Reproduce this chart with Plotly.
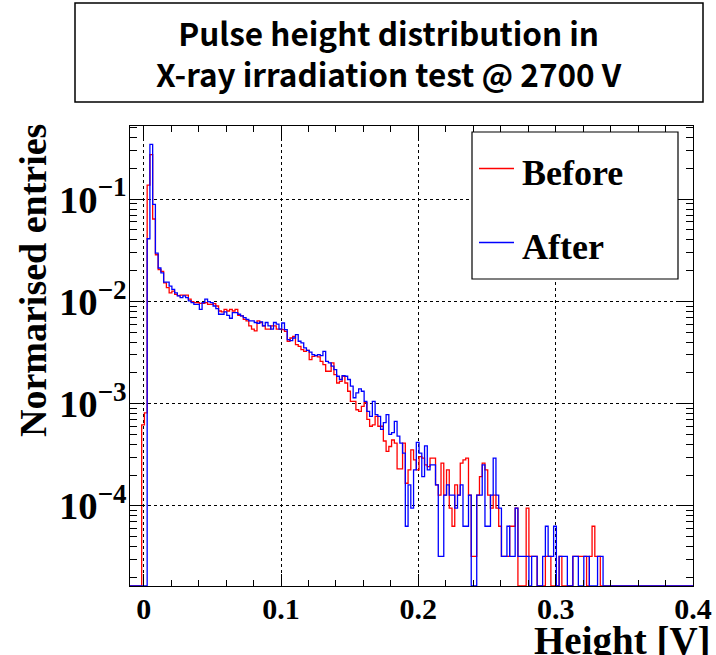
import numpy as np
import plotly.graph_objects as go

# ---------------- data ----------------
bin_width = 0.002
first_edge = -0.0015          # low edge of first listed bin [V]
x_min, x_max = -0.01, 0.40
y_min, y_max = 1.64e-5, 0.52

before = [
    6.2e-4, 8.1e-4, 0.137, 0.273, 0.064, 0.0286, 0.0205, 0.0197, 0.0152, 0.0136,
    0.0121, 0.0126, 0.0117, 0.0114, 0.0115, 0.0115, 0.0115, 0.0105, 0.00993, 0.0097,
    0.0097, 0.00957, 0.00957, 0.0097, 0.00935, 0.00935, 0.00949, 0.00901, 0.00805, 0.00788,
    0.00836, 0.00805, 0.00836, 0.00805, 0.00836, 0.00731, 0.00721, 0.00668, 0.00644, 0.00576,
    0.00535, 0.00515, 0.00644, 0.00621, 0.00576, 0.00535, 0.00535, 0.00576, 0.00576, 0.00535,
    0.00535, 0.00528, 0.00509, 0.00407, 0.00438, 0.00455, 0.00378, 0.00363, 0.00337, 0.00324,
    0.00332, 0.00269, 0.0029, 0.00294, 0.00286, 0.00259, 0.0024, 0.00207, 0.00207, 0.0025,
    0.00192, 0.00159, 0.00165, 0.00185, 0.00159, 0.00132, 0.00105, 0.00105, 0.00087, 0.00084,
    0.00094, 0.00102, 0.0007, 0.0006, 0.00062, 0.00075, 0.0006, 0.0006, 0.00043, 0.00034,
    0.00038, 0.00044, 0.00041, 0.00023, 0.00023, 0.00041, 1.66e-4, 2.24e-4, 3.53e-4, 2.81e-4,
    2.24e-4, 3.03e-4, 2.92e-4, 2.51e-4, 2.42e-4, 2.92e-4, 2.92e-4, 1.6e-4, 1.27e-4, 2.61e-4,
    1.27e-4, 2.24e-4, 9.5e-5, 6.3e-5, 1.6e-4, 1.27e-4, 2.61e-4, 2.81e-4, 2.92e-4, 1.27e-4,
    3.2e-5, 3.2e-5, 1.27e-4, 1.93e-4, 2.61e-4, 2.24e-4, 1.27e-4, 9.5e-5, 1.27e-4, 9.5e-5,
    6.3e-5, 3.2e-5, 3.2e-5, 3.2e-5, 6.3e-5, 6.3e-5, 9.5e-5, 0, 0, 0,
    9.5e-5, 3.2e-5, 3.2e-5, 3.2e-5, 0, 0, 0, 3.2e-5, 3.2e-5, 0,
    0, 0, 3.2e-5, 0, 0, 0, 0, 3.2e-5, 3.2e-5, 3.2e-5,
    3.2e-5, 3.2e-5, 0, 3.2e-5, 6.3e-5, 3.2e-5, 3.2e-5, 0,
]

after = [
    0, 0, 0.041, 0.343, 0.089, 0.0297, 0.0212, 0.0190, 0.0154, 0.0154,
    0.0141, 0.0131, 0.0121, 0.0113, 0.0109, 0.0113, 0.0109, 0.0101, 0.0097, 0.00935,
    0.00935, 0.00836, 0.0097, 0.0105, 0.00993, 0.0097, 0.00901, 0.00849, 0.00748, 0.00748,
    0.00788, 0.00731, 0.00684, 0.00776, 0.00776, 0.00748, 0.00721, 0.00694, 0.00668, 0.00644,
    0.00644, 0.00621, 0.00611, 0.0063, 0.00576, 0.00621, 0.00576, 0.00535, 0.00621, 0.00598,
    0.00535, 0.00614, 0.00528, 0.00422, 0.00413, 0.00438, 0.00472, 0.00407, 0.00392, 0.0035,
    0.00332, 0.00318, 0.00301, 0.00294, 0.00301, 0.00294, 0.00324, 0.00259, 0.0025, 0.00232,
    0.00215, 0.00185, 0.00172, 0.00188, 0.00185, 0.00172, 0.00148, 0.00114, 0.00127, 0.00139,
    0.00132, 0.00105, 0.00084, 0.00075, 0.00105, 0.00078, 0.00075, 0.00056, 0.00065, 0.00078,
    0.0005, 0.00052, 0.00067, 0.00048, 0.00041, 3.27e-4, 6.3e-5, 1.6e-4, 9.5e-5, 2.24e-4,
    4.17e-4, 3.27e-4, 1.93e-4, 3.86e-4, 2.24e-4, 2.51e-4, 2.51e-4, 1.6e-4, 3.2e-5, 3.2e-5,
    1.27e-4, 1.6e-4, 1.27e-4, 1.27e-4, 9.5e-5, 1.27e-4, 1.6e-4, 6.3e-5, 6.3e-5, 1.27e-4,
    0, 0, 1.27e-4, 1.27e-4, 2.51e-4, 6.3e-5, 6.3e-5, 1.27e-4, 2.92e-4, 1.27e-4,
    9.5e-5, 3.2e-5, 3.2e-5, 6.3e-5, 3.2e-5, 3.2e-5, 9.5e-5, 3.2e-5, 3.2e-5, 3.2e-5,
    3.2e-5, 0, 3.2e-5, 3.2e-5, 0, 0, 3.2e-5, 6.3e-5, 3.2e-5, 3.2e-5,
    6.3e-5, 0, 3.2e-5, 3.2e-5, 3.2e-5, 0, 0, 3.2e-5, 3.2e-5, 0,
    0, 3.2e-5, 3.2e-5, 0, 0, 0, 3.2e-5, 3.2e-5,
]

series_names = ["Before", "After"]
series_colors = ["#ff0000", "#0000ff"]

# ---------------- histogram step builder ----------------
def step_xy(values):
    v = np.asarray(values, dtype=float)
    n_pre = int(np.ceil((first_edge - x_min) / bin_width)) + 1
    n_post = int(np.ceil((x_max - (first_edge + len(v) * bin_width)) / bin_width)) + 1
    v = np.concatenate([np.zeros(n_pre), v, np.zeros(n_post)])
    edges = first_edge + bin_width * (np.arange(len(v) + 1) - n_pre)
    v = np.where(v > 0, v, y_min)  # empty bins drawn at the axis floor (ROOT style)
    xs = edges
    ys = np.append(v, v[-1])
    return xs, ys

fig = go.Figure()
for vals, name, col in zip([before, after], series_names, series_colors):
    xs, ys = step_xy(vals)
    fig.add_trace(go.Scatter(x=xs, y=ys, mode="lines", line=dict(color=col, width=1.3, shape="hv"),
                             name=name, showlegend=False, hoverinfo="skip"))

# ---------------- layout ----------------
W, H = 716, 655
L, R, T, B = 130, 693, 126, 586
def px_x(p):
    return (p - L) / (R - L)
def px_y(p):
    return (B - p) / (B - T)

serif = "Liberation Serif"
fig.update_layout(
    width=W, height=H,
    margin=dict(l=L, r=W - R, t=T, b=H - B, pad=0, autoexpand=False),
    paper_bgcolor="white", plot_bgcolor="white",
    showlegend=False,
)
fig.update_xaxes(
    range=[x_min, x_max], tick0=0, dtick=0.1, automargin=False,
    ticks="inside", ticklen=12, tickwidth=1, tickcolor="black", ticklabelstandoff=-4,
    minor=dict(ticks="inside", ticklen=6, dtick=0.02, tick0=0, tickcolor="black", showgrid=False),
    showline=True, linecolor="black", linewidth=1.2, mirror="allticks",
    showgrid=True, gridcolor="black", griddash="dot", gridwidth=1,
    zeroline=False,
    tickfont=dict(family=serif, size=30, color="black", weight="bold"),
)
fig.update_yaxes(
    type="log", range=[np.log10(y_min), np.log10(y_max)], dtick=1, automargin=False,
    exponentformat="power", ticklabelstandoff=-4,
    ticks="inside", ticklen=15, tickwidth=1, tickcolor="black",
    minor=dict(ticks="inside", ticklen=7, dtick="D1", tickcolor="black", showgrid=False),
    showline=True, linecolor="black", linewidth=1.2, mirror="allticks",
    showgrid=True, gridcolor="black", griddash="dot", gridwidth=1,
    zeroline=False,
    tickfont=dict(family=serif, size=31, color="black", weight="bold"),
)

# title box
fig.add_shape(type="rect", xref="paper", yref="paper",
              x0=px_x(75), x1=px_x(703), y0=px_y(102), y1=px_y(3),
              line=dict(color="black", width=1.5), fillcolor="white", layer="above")
fig.add_annotation(xref="paper", yref="paper", x=px_x(389), y=px_y(53),
                   text="Pulse height distribution in<br>X-ray irradiation test @ 2700 V",
                   showarrow=False, xanchor="center", yanchor="middle", align="center",
                   font=dict(family="Noto Sans CJK JP", size=31.5, color="black", weight="bold"))

# axis titles
fig.add_annotation(xref="paper", yref="paper", x=px_x(713), y=px_y(641),
                   text="Height [V]", showarrow=False, xanchor="right", yanchor="middle",
                   font=dict(family=serif, size=39, color="black", weight="bold"))
fig.add_annotation(xref="paper", yref="paper", x=px_x(33), y=px_y(281),
                   text="Normarised entries", showarrow=False, textangle=-90,
                   xanchor="center", yanchor="middle",
                   font=dict(family=serif, size=38, color="black", weight="bold"))

# legend box
fig.add_shape(type="rect", xref="paper", yref="paper",
              x0=px_x(472), x1=px_x(678), y0=px_y(279), y1=px_y(132),
              line=dict(color="black", width=1.2), fillcolor="white", layer="above")
for name, col, yc in zip(series_names, series_colors, [168.5, 242.5]):
    fig.add_shape(type="line", xref="paper", yref="paper",
                  x0=px_x(479), x1=px_x(514), y0=px_y(yc), y1=px_y(yc),
                  line=dict(color=col, width=1.3), layer="above")
    fig.add_annotation(xref="paper", yref="paper", x=px_x(520), y=px_y(yc + 4),
                       text=name, showarrow=False, xanchor="left", yanchor="middle",
                       font=dict(family=serif, size=36, color="black", weight="bold"))

fig.write_html("out.html")
